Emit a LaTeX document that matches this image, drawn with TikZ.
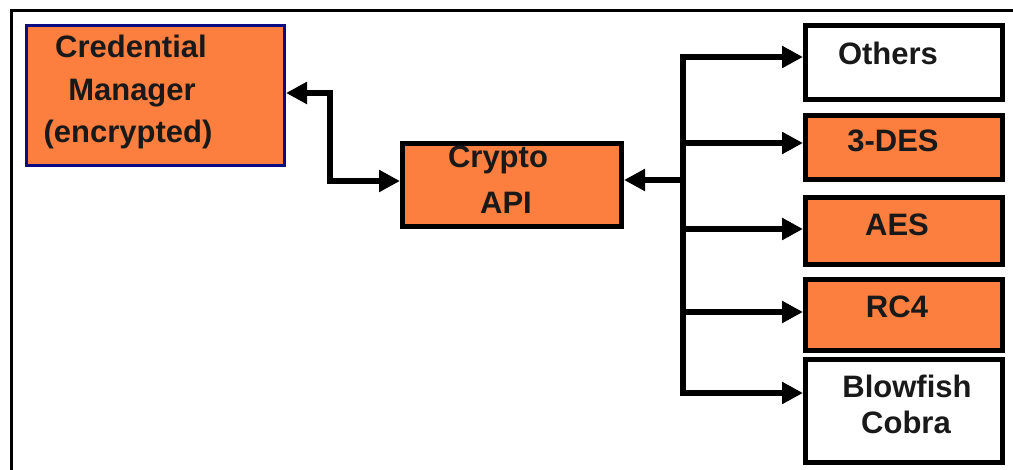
\documentclass[tikz,border=0pt]{standalone}
\usepackage{fontspec}
\setmainfont{Liberation Sans}
\usetikzlibrary{arrows.meta}
\definecolor{boxorange}{RGB}{252,127,63}
\definecolor{navyline}{RGB}{10,10,130}
\tikzset{
  orangebox/.style={draw=black, line width=5pt, fill=boxorange, anchor=north west, inner sep=0pt},
  whitebox/.style={draw=black, line width=5pt, fill=white, anchor=north west, inner sep=0pt},
  credbox/.style={draw=navyline, line width=3pt, fill=boxorange, anchor=north west, inner sep=0pt},
  lbl/.style={anchor=base, inner sep=0pt, font=\fontsize{31}{36}\selectfont\bfseries, text=black!90},
  conn/.style={line width=5.5pt, draw=black, line join=miter},
  tip/.tip={Triangle[length=21pt,width=21pt]}
}
\begin{document}
\begin{tikzpicture}[x=1pt,y=-1pt]
\useasboundingbox (0,0) rectangle (1013,470);
\clip (0,0) rectangle (1013,470);
% outer frame
\draw[line width=3pt] (11,480) -- (11,11) -- (1030,11);

% boxes
\node[credbox, minimum width=258pt, minimum height=140pt] (cred) at (25,24) {};
\node[orangebox, minimum width=219pt, minimum height=83pt] (crypto) at (400,141) {};
\node[whitebox, minimum width=197pt, minimum height=74pt] (others) at (803,23) {};
\node[orangebox, minimum width=197pt, minimum height=64pt] (des) at (803,113) {};
\node[orangebox, minimum width=197pt, minimum height=67pt] (aes) at (803,195) {};
\node[orangebox, minimum width=197pt, minimum height=71pt] (rc) at (803,277) {};
\node[whitebox, minimum width=197pt, minimum height=103pt] (blow) at (803,357) {};

% labels
\node[lbl] (cred1) at (131,58) {Credential};
\node[lbl] (cred2) at (132,101) {Manager};
\node[lbl] (cred3) at (128,143) {(encrypted)};
\node[lbl] (crypto1) at (498,168) {Crypto};
\node[lbl] (crypto2) at (506,214) {API};
\node[lbl] (othersl) at (888,65) {Others};
\node[lbl] (desl) at (893,152) {3-DES};
\node[lbl] (aesl) at (897,236) {AES};
\node[lbl] (rcl) at (897,318) {RC4};
\node[lbl] (blow1) at (907,398) {Blowfish};
\node[lbl] (blow2) at (906,434) {Cobra};

% credential manager <-> crypto api
\coordinate (j1) at (330,93);
\coordinate (j2) at (330,181);
\draw[conn, tip-tip] (cred.east |- j1) -- (j1) -- (j2) -- (crypto.west |- j2);

% algorithm bus
\coordinate (btop) at (683,57);
\coordinate (bdes) at (683,143);
\coordinate (bmid) at (683,180);
\coordinate (baes) at (683,229);
\coordinate (brc) at (683,312);
\coordinate (bbot) at (683,393);
\draw[conn, -tip] (bmid) -- (btop) -- (others.west |- btop);
\draw[conn, -tip] (bmid) -- (bbot) -- (blow.west |- bbot);
\draw[conn, -tip] (bmid) -- (crypto.east |- bmid);
\draw[conn, -tip] (bdes) -- (des.west |- bdes);
\draw[conn, -tip] (baes) -- (aes.west |- baes);
\draw[conn, -tip] (brc) -- (rc.west |- brc);
\end{tikzpicture}
\end{document}
